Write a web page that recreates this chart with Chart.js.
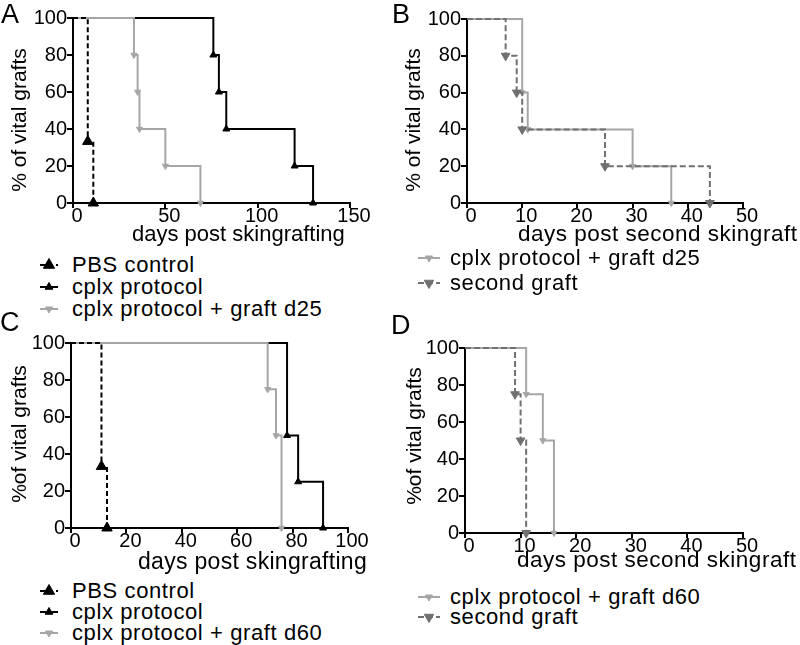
<!DOCTYPE html>
<html>
<head>
<meta charset="utf-8">
<script src="https://cdn.jsdelivr.net/npm/chart.js@4.4.0/dist/chart.umd.min.js"></script>
<style>
  body { margin: 0; background: #fff; }
  #page { position: relative; width: 800px; height: 645px; overflow: hidden;
          font-family: "Liberation Sans", Arial, sans-serif; color: #000; }
  canvas { position: absolute; }
  .letter { position: absolute; font-size: 27px; line-height: 27px; }
  .xtitle { position: absolute; font-size: 22px; line-height: 22px; white-space: nowrap; }
  .ytitle { position: absolute; font-size: 21px; line-height: 21px; white-space: nowrap;
            transform: translate(-50%, -50%) rotate(-90deg); }
  .legend { position: absolute; font-size: 22px; letter-spacing: 0.6px; white-space: nowrap; }
  .legend .row { display: flex; align-items: center; }
  .legend svg { flex: none; }
</style>
</head>
<body>
<div id="page">
  <canvas id="chartA"></canvas>
  <canvas id="chartB"></canvas>
  <canvas id="chartC"></canvas>
  <canvas id="chartD"></canvas>

  <div class="letter" style="left:1px;top:1px">A</div>
  <div class="letter" style="left:392px;top:1px">B</div>
  <div class="letter" style="left:0px;top:309px">C</div>
  <div class="letter" style="left:391px;top:312px">D</div>

  <div class="ytitle" style="left:18px;top:120px">% of vital grafts</div>
  <div class="ytitle" style="left:412px;top:120px">% of vital grafts</div>
  <div class="ytitle" style="left:18px;top:434px">%of vital grafts</div>
  <div class="ytitle" style="left:413px;top:436px">%of vital grafts</div>

  <div class="xtitle" style="left:132px;top:223px">days post skingrafting</div>
  <div class="xtitle" style="left:518px;top:223px;font-size:22.5px;letter-spacing:0.5px">days post second skingraft</div>
  <div class="xtitle" style="left:138px;top:550px;font-size:23px;letter-spacing:0.3px">days post skingrafting</div>
  <div class="xtitle" style="left:517px;top:549px;font-size:22.5px;letter-spacing:0.5px">days post second skingraft</div>

  <div class="legend" id="legendA" style="left:40px;top:254px"></div>
  <div class="legend" id="legendB" style="left:418px;top:245px"></div>
  <div class="legend" id="legendC" style="left:40px;top:580px"></div>
  <div class="legend" id="legendD" style="left:418px;top:587px"></div>
</div>

<script>
// Panel A: days post skingrafting
const aPbsDays = [0, 8, 11];
const aPbsVital = [100, 33.3, 0];
const aCplxDays = [0, 76, 79, 83, 120, 130];
const aCplxVital = [100, 80, 60, 40, 20, 0];
const aGraftDays = [0, 33, 35, 36, 50, 69];
const aGraftVital = [100, 80, 60, 40, 20, 0];
const aXTicks = [0, 50, 100, 150];

// Panel B: days post second skingraft
const bGraftDays = [0, 10, 11, 30, 37];
const bGraftVital = [100, 60, 40, 20, 0];
const bSecondDays = [0, 7, 9, 10, 25, 44];
const bSecondVital = [100, 80, 60, 40, 20, 0];
const bXTicks = [0, 10, 20, 30, 40, 50];

// Panel C: days post skingrafting
const cPbsDays = [0, 11, 13];
const cPbsVital = [100, 33.3, 0];
const cCplxDays = [0, 78, 82, 91];
const cCplxVital = [100, 50, 25, 0];
const cGraftDays = [0, 71, 74, 76];
const cGraftVital = [100, 75, 50, 0];
const cXTicks = [0, 20, 40, 60, 80, 100];

// Panel D: days post second skingraft
const dGraftDays = [0, 11, 14, 16];
const dGraftVital = [100, 75, 50, 0];
const dSecondDays = [0, 9, 10, 11];
const dSecondVital = [100, 75, 50, 0];
const dXTicks = [0, 10, 20, 30, 40, 50];

const yTicks = [0, 20, 40, 60, 80, 100];

const labelPbs = "PBS control";
const labelCplx = "cplx protocol";
const labelGraft25 = "cplx protocol + graft d25";
const labelGraft60 = "cplx protocol + graft d60";
const labelSecond = "second graft";

const black = "#000000";
const lightGray = "#a6a6a6";
const darkGray = "#707070";

const pbsStyle = { color: black, dash: [5, 3], down: false, r: 6 };
const cplxStyle = { color: black, dash: [], down: false, r: 4 };
const graftStyle = { color: lightGray, dash: [], down: true, r: 3.5 };
const secondStyle = { color: darkGray, dash: [6, 3], down: true, r: 5 };

Chart.defaults.font.family = "'Liberation Sans', Arial, sans-serif";
Chart.defaults.color = "#000";

function series(label, days, vital, style, order) {
  return {
    label: label,
    data: days.map((d, i) => ({ x: d, y: vital[i] })),
    borderColor: style.color,
    borderWidth: 2,
    borderDash: style.dash,
    stepped: "before",
    fill: false,
    order: order,
    clip: false,
    pointStyle: "triangle",
    pointRotation: style.down ? 180 : 0,
    pointRadius: (ctx) => (ctx.dataIndex === 0 ? 0 : style.r),
    pointBackgroundColor: style.color,
    pointBorderColor: style.color,
    pointBorderWidth: 1,
  };
}

// place each chart so its plot area sits where the reference draws it
function makePanel(id, box, area, xTicks, datasets) {
  const yW = 45;
  const xH = 25;
  const canvas = document.getElementById(id);
  canvas.width = box.w;
  canvas.height = box.h;
  canvas.style.left = box.x + "px";
  canvas.style.top = box.y + "px";

  new Chart(canvas, {
    type: "line",
    data: { datasets: datasets },
    options: {
      responsive: false,
      animation: false,
      events: [],
      layout: {
        padding: {
          top: area.top - box.y,
          left: area.left - box.x - yW,
          right: box.x + box.w - area.right,
          bottom: box.y + box.h - area.bottom - xH,
        },
      },
      plugins: { legend: { display: false }, tooltip: { enabled: false } },
      scales: {
        x: {
          type: "linear",
          min: xTicks[0],
          max: xTicks[xTicks.length - 1],
          afterFit: (s) => { s.height = xH; },
          afterBuildTicks: (s) => { s.ticks = xTicks.map((v) => ({ value: v })); },
          grid: { display: true, drawOnChartArea: false, drawTicks: true, tickLength: 5, color: black, lineWidth: 2 },
          border: { display: true, color: black, width: 2 },
          ticks: { font: { size: 20, lineHeight: 0.8 }, padding: 0, labelOffset: 4, maxRotation: 0, autoSkip: false },
        },
        y: {
          type: "linear",
          min: 0,
          max: 100,
          afterFit: (s) => { s.width = yW; },
          afterBuildTicks: (s) => { s.ticks = yTicks.map((v) => ({ value: v })); },
          grid: { display: true, drawOnChartArea: false, drawTicks: true, tickLength: 6, color: black, lineWidth: 2 },
          border: { display: true, color: black, width: 2 },
          ticks: { font: { size: 20 }, padding: 0, autoSkip: false },
        },
      },
    },
  });
}

function legendIcon(style, w) {
  const c = w / 2, y = 8, r = style.r + 0.5;
  const s = 0.866 * r;
  const pts = style.down
    ? `${c},${y + r} ${c - s},${y - r / 2} ${c + s},${y - r / 2}`
    : `${c},${y - r} ${c - s},${y + r / 2} ${c + s},${y + r / 2}`;
  const dash = style.dash.length ? `stroke-dasharray="${style.dash.join(" ")}"` : "";
  return `<svg width="${w}" height="16" viewBox="0 0 ${w} 16">
    <line x1="0" y1="${y}" x2="${w}" y2="${y}" stroke="${style.color}" stroke-width="2" ${dash}/>
    <polygon points="${pts}" fill="${style.color}" stroke="${style.color}" stroke-width="1"/>
  </svg>`;
}

function makeLegend(id, items, iconW, gap, rowH) {
  const el = document.getElementById(id);
  el.innerHTML = items
    .map(([label, style]) =>
      `<div class="row" style="height:${rowH}px;line-height:${rowH}px">` +
      `<span style="margin-right:${gap}px;display:flex">${legendIcon(style, iconW)}</span>${label}</div>`)
    .join("");
}

makePanel("chartA", { x: 0, y: 0, w: 400, h: 235 }, { left: 73, top: 18, right: 350, bottom: 203 }, aXTicks, [
  series(labelPbs, aPbsDays, aPbsVital, pbsStyle, 0),
  series(labelGraft25, aGraftDays, aGraftVital, graftStyle, 1),
  series(labelCplx, aCplxDays, aCplxVital, cplxStyle, 2),
]);

makePanel("chartB", { x: 400, y: 0, w: 400, h: 235 }, { left: 467, top: 19, right: 743, bottom: 203 }, bXTicks, [
  series(labelSecond, bSecondDays, bSecondVital, secondStyle, 0),
  series(labelGraft25, bGraftDays, bGraftVital, graftStyle, 1),
]);

makePanel("chartC", { x: 0, y: 325, w: 400, h: 235 }, { left: 71, top: 343, right: 348, bottom: 528 }, cXTicks, [
  series(labelPbs, cPbsDays, cPbsVital, pbsStyle, 0),
  series(labelGraft60, cGraftDays, cGraftVital, graftStyle, 1),
  series(labelCplx, cCplxDays, cCplxVital, cplxStyle, 2),
]);

makePanel("chartD", { x: 400, y: 330, w: 400, h: 235 }, { left: 465, top: 348, right: 743, bottom: 533 }, dXTicks, [
  series(labelSecond, dSecondDays, dSecondVital, secondStyle, 0),
  series(labelGraft60, dGraftDays, dGraftVital, graftStyle, 1),
]);

makeLegend("legendA", [[labelPbs, pbsStyle], [labelCplx, cplxStyle], [labelGraft25, graftStyle]], 18, 14, 22);
makeLegend("legendB", [[labelGraft25, graftStyle], [labelSecond, secondStyle]], 22, 10, 25);
makeLegend("legendC", [[labelPbs, pbsStyle], [labelCplx, cplxStyle], [labelGraft60, graftStyle]], 18, 14, 21);
makeLegend("legendD", [[labelGraft60, graftStyle], [labelSecond, secondStyle]], 22, 10, 20);
</script>
</body>
</html>
